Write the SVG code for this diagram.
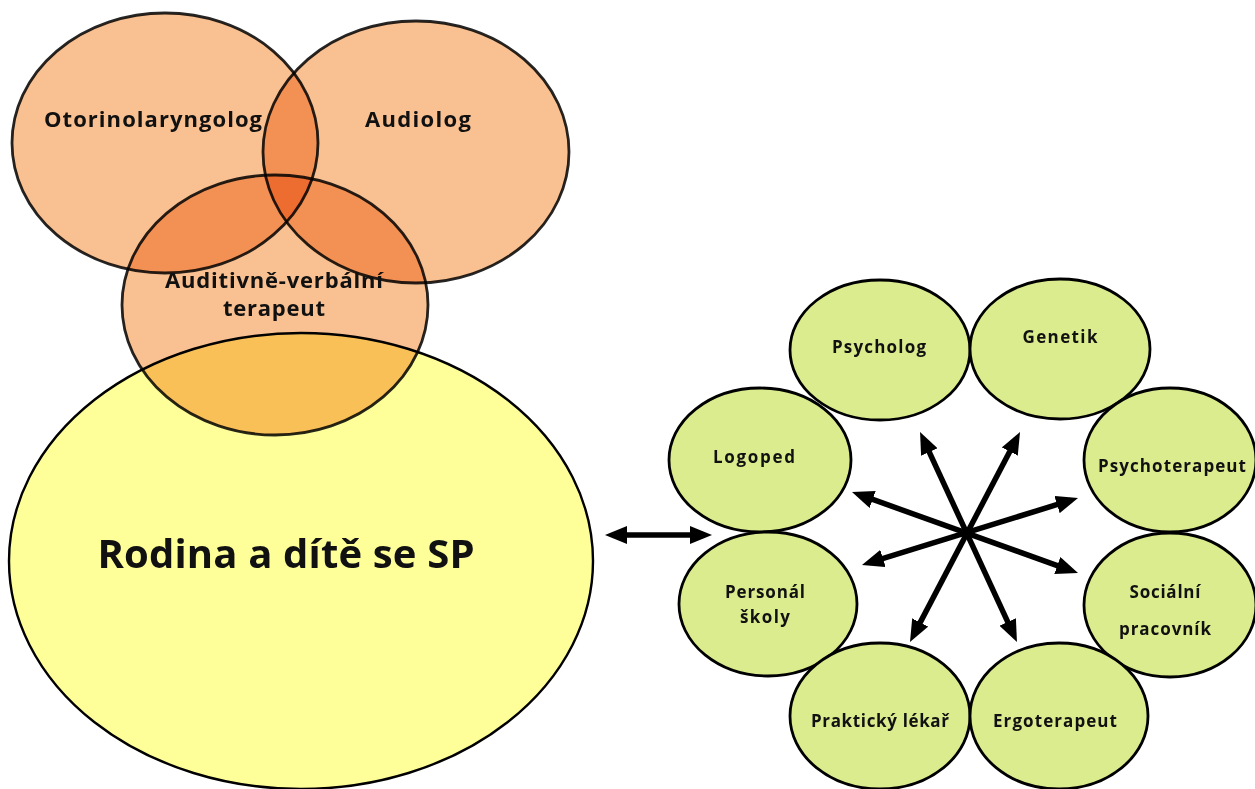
<svg xmlns="http://www.w3.org/2000/svg" width="1255" height="789" viewBox="0 0 1255 789">
<defs>
<style>
.venn{fill:#F9C091;stroke:#000;stroke-width:2.8;stroke-opacity:0.85;mix-blend-mode:multiply}
.fam{fill:#FFFF99;stroke:#000;stroke-width:2.4}
.grn{fill:#DBEC8E;stroke:#000;stroke-width:2.8}
.t{font-family:"Open Sans","Liberation Sans",sans-serif;font-weight:bold;fill:#111;text-anchor:middle}
.tv{font-size:22px}
.tg{font-size:17px}
.tb{font-size:40px}
.arr{stroke:#000;stroke-width:5.5;fill:none;marker-start:url(#ah);marker-end:url(#ah)}
</style>
<marker id="ah" viewBox="0 0 22 18" refX="14" refY="9" markerWidth="22" markerHeight="18" markerUnits="userSpaceOnUse" orient="auto-start-reverse">
<path d="M0,0 L22,9 L0,18 z" fill="#000"/>
</marker>
</defs>
<rect width="1255" height="789" fill="#fff"/>

<g id="rodina">
<ellipse class="fam" cx="301" cy="561" rx="292" ry="228"/>
<text class="t tb" x="286" y="568" textLength="377">Rodina a dítě se SP</text>
</g>
<g id="otorinolaryngolog">
<ellipse class="venn" cx="165" cy="143" rx="153" ry="130"/>
</g>
<g id="audiolog">
<ellipse class="venn" cx="416" cy="152" rx="153" ry="131"/>
</g>
<g id="terapeut">
<ellipse class="venn" cx="275" cy="305" rx="153" ry="130"/>
</g>
<g id="venn-labels">
<text class="t tv" x="153" y="127" textLength="218">Otorinolaryngolog</text>
<text class="t tv" x="418" y="127" textLength="106">Audiolog</text>
<text class="t tv" x="274" y="288" textLength="218">Auditivně-verbální</text>
<text class="t tv" x="274" y="316" textLength="102">terapeut</text>
</g>

<g id="psycholog"><ellipse class="grn" cx="880" cy="350" rx="90" ry="70"/><text class="t tg" x="879" y="353" textLength="94">Psycholog</text></g>
<g id="genetik"><ellipse class="grn" cx="1060" cy="349" rx="90" ry="70"/><text class="t tg" x="1060" y="343" textLength="75">Genetik</text></g>
<g id="logoped"><ellipse class="grn" cx="760" cy="460" rx="91" ry="72"/><text class="t tg" x="754" y="463" textLength="82">Logoped</text></g>
<g id="psychoterapeut"><ellipse class="grn" cx="1170" cy="460" rx="86" ry="72"/><text class="t tg" x="1172" y="472" textLength="148">Psychoterapeut</text></g>
<g id="personal"><ellipse class="grn" cx="768" cy="604" rx="89" ry="72"/><text class="t tg" x="765" y="598" textLength="80">Personál</text><text class="t tg" x="765" y="623" textLength="50">školy</text></g>
<g id="socialni"><ellipse class="grn" cx="1170" cy="605" rx="86" ry="72"/><text class="t tg" x="1165" y="598" textLength="71">Sociální</text><text class="t tg" x="1165" y="635" textLength="92">pracovník</text></g>
<g id="prakticky"><ellipse class="grn" cx="880" cy="716" rx="90" ry="73"/><text class="t tg" x="880" y="727" textLength="138">Praktický lékař</text></g>
<g id="ergoterapeut"><ellipse class="grn" cx="1059" cy="716" rx="89" ry="73"/><text class="t tg" x="1055" y="727" textLength="124">Ergoterapeut</text></g>

<g id="connectors">
<line class="arr" x1="613" y1="535" x2="704" y2="535"/>
<line class="arr" x1="923.4" y1="439.3" x2="1013.6" y2="634.7"/>
<line class="arr" x1="1016.3" y1="439.1" x2="913.7" y2="634.9"/>
<line class="arr" x1="859.5" y1="494.7" x2="1070.5" y2="570.3"/>
<line class="arr" x1="1070.4" y1="500.4" x2="869.6" y2="562.6"/>
</g>
</svg>
